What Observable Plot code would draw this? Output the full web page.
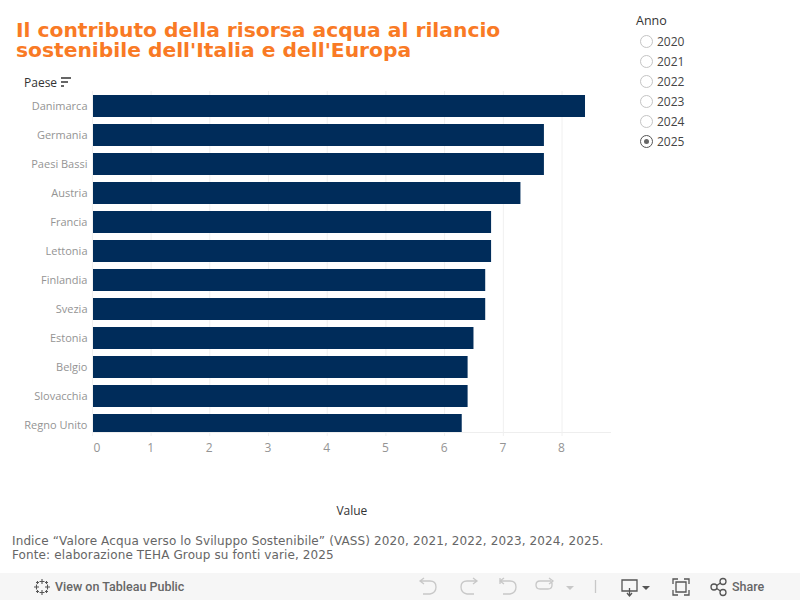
<!DOCTYPE html>
<html><head><meta charset="utf-8">
<script src="https://cdn.jsdelivr.net/npm/d3@7"></script>
<script src="https://cdn.jsdelivr.net/npm/@observablehq/plot@0.6"></script>
<style>
html,body{margin:0;padding:0;background:#fff;overflow:hidden}
#page{position:relative;width:800px;height:600px;overflow:hidden;opacity:.999}
#page svg.plot{position:absolute;left:0;top:0}
.abs{position:absolute;white-space:nowrap}
#title{left:16px;top:20px;font:bold 20.25px/20px "DejaVu Sans";color:#f97a25}
#paese{left:24px;top:76px;font:12px/14px "Open Sans";color:#333}
#anno{left:636px;top:13px;font:12.5px/15px "Open Sans";color:#333}
.opt{left:657px;font:12px/16px "Open Sans";color:#444}
.radio{box-sizing:border-box;width:13px;height:13px;left:640px;border:1px solid #c4c4c4;border-radius:50%;background:#fff}
.radio.on{border-color:#555}
.radio.on::after{content:"";position:absolute;left:3px;top:3px;width:5px;height:5px;border-radius:50%;background:#666}
#note{left:12px;top:534px;font:12px/14px "DejaVu Sans";color:#666;letter-spacing:.12px}
#bar{left:0;top:573px;width:800px;height:27px;background:#f6f6f6}
.tb{font:500 12.5px/14px Roboto;color:#666;top:580px}
</style></head>
<body><div id="page">
<div id="title" class="abs">Il contributo della risorsa acqua al rilancio<br>sostenibile dell'Italia e dell'Europa</div>
<div id="paese" class="abs">Paese</div>
<svg class="abs" style="left:60px;top:77px" width="14" height="12"><path d="M1 1H11M1 5H8M1 9H4" stroke="#666" stroke-width="1.8" fill="none"/></svg>
<div id="anno" class="abs">Anno</div>
<div id="bar" class="abs"></div>
<div id="note" class="abs">Indice “Valore Acqua verso lo Sviluppo Sostenibile” (VASS) 2020, 2021, 2022, 2023, 2024, 2025.<br>Fonte: elaborazione TEHA Group su fonti varie, 2025</div>
<svg class="abs" style="left:33px;top:578px" width="18" height="18" fill="none" stroke="#555" stroke-width="1.1"><path d="M9 1V6M6.5 3.5H11.5M9 12V17M6.5 14.5H11.5M1 9H6M3.5 6.5V11.5M12 9H17M14.5 6.5V11.5M4.5 3V6M3 4.5H6M13.500 3V6M12 4.500H15M4.500 12V15M3 13.500H6M13.500 12V15M12 13.500H15"/></svg>
<div class="abs tb" style="left:55px">View on Tableau Public</div>
<svg class="abs" style="left:415px;top:575px" width="385" height="25" fill="none" stroke="#c8c8c8" stroke-width="1.3">
<path d="M6 6H15Q21 6 21 12T15 19H8M9 3L5 6L9 9"/>
<path d="M61 6H52Q46 6 46 12T52 19H59M58 3L62 6L58 9"/>
<path d="M86 6H95Q101 6 101 12T95 19H88M89 3L85 6L89 9M85 3V9"/>
<path d="M136 6H125Q121 6 121 10T125 14H133Q137 14 137 10V6M134 3L138 6L134 9"/>
<path d="M151 11H159L155 15Z" fill="#c8c8c8" stroke="none"/>
<path d="M180.500 5V18"/>
<g stroke="#555"><path d="M207 5H222V16H207ZM214.500 13V20M212 18L214.500 21L217 18"/><path d="M227 11H235L231 15Z" fill="#555" stroke="none"/>
<path d="M258 9V4H263M269 4H274V9M274 15V20H269M263 20H258V15M261 7H271V17H261Z"/>
<circle cx="299" cy="12" r="3"/><circle cx="308" cy="6.500" r="3"/><circle cx="308" cy="17.500" r="3"/><path d="M301.700 10.500L305.500 8M301.700 13.500L305.500 16"/></g>
</svg>
<div class="abs tb" style="left:732px">Share</div>
</div>
<script>
const paesi = ["Danimarca","Germania","Paesi Bassi","Austria","Francia","Lettonia","Finlandia","Svezia","Estonia","Belgio","Slovacchia","Regno Unito"];
const valori = [8.4,7.7,7.7,7.3,6.8,6.8,6.7,6.7,6.5,6.4,6.4,6.3];
const anni = [2020,2021,2022,2023,2024,2025];
const annoScelto = 2025;
const tickX = [0,1,2,3,4,5,6,7,8];
const dati = paesi.map((paese,i)=>({paese,valore:valori[i]}));
const page = document.getElementById("page");
anni.forEach((a,i)=>{
  const y = 35 + i*20;
  const r = document.createElement("div");
  r.className = "abs radio" + (a===annoScelto?" on":"");
  r.style.top = y + "px";
  page.appendChild(r);
  const t = document.createElement("div");
  t.className = "abs opt"; t.style.top = (y-1) + "px"; t.textContent = a;
  page.appendChild(t);
});
const chart = Plot.plot({
  width:800,height:600,
  marginLeft:93,marginRight:190,marginTop:91,marginBottom:168,
  style:{fontFamily:"'Open Sans'",background:"transparent",overflow:"visible"},
  x:{domain:[0,8.807],range:[91.9,608.9]},
  y:{domain:paesi,range:[91.5,439.5],paddingInner:7/29,paddingOuter:3.5/29,round:false},
  marks:[
    Plot.ruleX(tickX,{stroke:"#f0f0f0"}),
    Plot.frame({anchor:"bottom",stroke:"#eeeeee"}),
    Plot.barX(dati,{y:"paese",x:"valore",fill:"#002c5a",clip:true,insetLeft:1}),
    Plot.axisX(tickX,{anchor:"bottom",tickSize:4,stroke:"#f0f0f0",tickFormat:()=>"",label:null}),
    Plot.axisX([0],{anchor:"bottom",tickSize:0,tickPadding:11,dx:4.5,fontSize:12,fill:"#949494",label:null}),
    Plot.axisX(tickX.slice(1),{anchor:"bottom",tickSize:0,tickPadding:11,dx:-0.5,fontSize:12,fill:"#949494",label:null}),
    Plot.axisY({anchor:"left",tickSize:0,tickPadding:6,fontSize:11,fill:"#949494",label:null}),
    Plot.text(["Value"],{x:4.42,frameAnchor:"bottom",dy:82,fontSize:12,fill:"#333"})
  ]
});
page.insertBefore(chart,page.firstChild);
</script>
</body></html>
